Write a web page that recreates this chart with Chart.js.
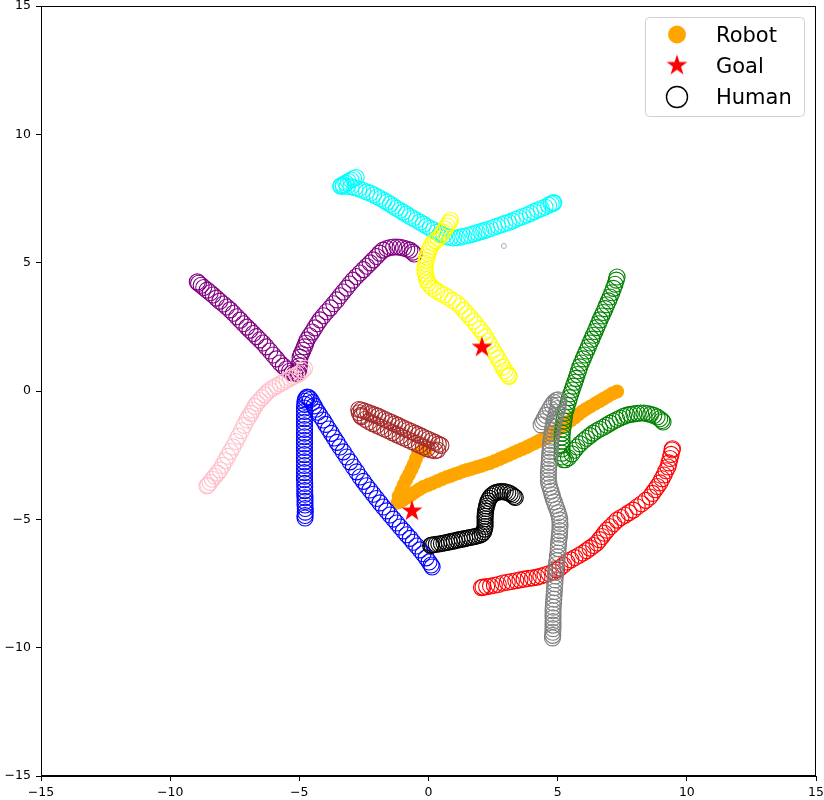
<!DOCTYPE html>
<html><head><meta charset="utf-8">
<style>html,body{margin:0;padding:0;background:#fff;}#wrap{width:824px;height:800px;}</style>
<script src="https://cdn.jsdelivr.net/npm/chart.js@4/dist/chart.umd.min.js"></script>
</head><body><div id="wrap"><canvas id="c" width="824" height="800"></canvas></div>
<script>
// ---- data (x, y) ----
const robot = [[7.30,-0.02],[7.12,-0.10],[6.95,-0.20],[6.78,-0.30],[6.61,-0.40],[6.44,-0.50],[6.27,-0.60],[6.10,-0.70],[5.95,-0.80],[5.80,-0.92],[5.66,-1.03],[5.51,-1.14],[5.36,-1.25],[5.21,-1.36],[5.05,-1.47],[4.90,-1.58],[4.74,-1.68],[4.59,-1.79],[4.43,-1.87],[4.27,-1.95],[4.12,-2.03],[3.96,-2.10],[3.81,-2.18],[3.63,-2.26],[3.45,-2.34],[3.27,-2.42],[3.10,-2.50],[2.92,-2.57],[2.75,-2.65],[2.57,-2.73],[2.38,-2.81],[2.20,-2.86],[2.02,-2.92],[1.85,-2.97],[1.67,-3.03],[1.49,-3.08],[1.33,-3.13],[1.18,-3.19],[1.02,-3.24],[0.87,-3.30],[0.72,-3.35],[0.53,-3.43],[0.35,-3.51],[0.16,-3.59],[-0.02,-3.66],[-0.21,-3.74],[-0.37,-3.84],[-0.52,-3.94],[-0.68,-4.05],[-0.83,-4.15],[-0.99,-4.25],[-1.10,-4.30],[-1.20,-4.35],[-1.15,-4.10],[-1.05,-3.87],[-0.96,-3.66],[-0.86,-3.45],[-0.76,-3.26],[-0.66,-3.06],[-0.57,-2.86],[-0.49,-2.65],[-0.41,-2.45],[-0.28,-2.36],[-0.10,-2.30]];
const goals = [[2.07,1.70],[-0.64,-4.68]];
const probe = [[2.92,5.65]];
const cyan = [[-2.80,8.32],[-2.90,8.28],[-3.00,8.22],[-3.10,8.16],[-3.20,8.10],[-3.30,8.04],[-3.38,8.00],[-3.40,7.98],[-3.30,7.98],[-3.15,7.98],[-3.00,7.96],[-2.85,7.92],[-2.70,7.88],[-2.55,7.82],[-2.40,7.76],[-2.26,7.71],[-2.12,7.64],[-1.98,7.57],[-1.85,7.50],[-1.72,7.42],[-1.61,7.36],[-1.48,7.28],[-1.36,7.20],[-1.24,7.12],[-1.11,7.04],[-0.99,6.97],[-0.86,6.89],[-0.73,6.81],[-0.60,6.73],[-0.47,6.66],[-0.33,6.58],[-0.20,6.50],[-0.07,6.42],[0.07,6.34],[0.20,6.27],[0.33,6.19],[0.46,6.12],[0.59,6.06],[0.72,6.01],[0.85,5.98],[0.98,5.96],[1.11,5.97],[1.24,6.00],[1.37,6.03],[1.50,6.06],[1.63,6.09],[1.76,6.13],[1.89,6.17],[2.02,6.21],[2.14,6.25],[2.26,6.28],[2.40,6.33],[2.54,6.38],[2.68,6.43],[2.82,6.48],[2.96,6.53],[3.10,6.57],[3.24,6.63],[3.38,6.69],[3.52,6.75],[3.66,6.80],[3.81,6.86],[3.95,6.92],[4.09,6.99],[4.23,7.05],[4.37,7.11],[4.51,7.17],[4.65,7.24],[4.75,7.29],[4.82,7.32],[4.85,7.34]];
const yellow = [[0.85,6.65],[0.80,6.55],[0.72,6.43],[0.64,6.31],[0.56,6.19],[0.47,6.06],[0.37,5.94],[0.27,5.85],[0.17,5.77],[0.09,5.63],[0.03,5.50],[-0.02,5.36],[-0.06,5.22],[-0.09,5.10],[-0.11,4.97],[-0.13,4.84],[-0.14,4.71],[-0.12,4.58],[-0.09,4.46],[-0.06,4.33],[-0.02,4.21],[0.07,4.10],[0.18,4.00],[0.32,3.90],[0.45,3.82],[0.60,3.74],[0.77,3.64],[0.94,3.53],[1.10,3.43],[1.24,3.30],[1.37,3.15],[1.49,3.01],[1.61,2.88],[1.74,2.73],[1.86,2.57],[1.99,2.42],[2.11,2.26],[2.21,2.10],[2.31,1.93],[2.40,1.77],[2.50,1.60],[2.60,1.43],[2.69,1.27],[2.79,1.10],[2.88,0.93],[2.96,0.80],[3.04,0.68],[3.10,0.60],[3.12,0.57]];
const purple = [[-8.95,4.25],[-8.90,4.20],[-8.80,4.12],[-8.70,4.03],[-8.57,3.93],[-8.45,3.83],[-8.34,3.74],[-8.21,3.62],[-8.08,3.50],[-7.94,3.39],[-7.81,3.27],[-7.68,3.16],[-7.55,3.03],[-7.42,2.89],[-7.29,2.76],[-7.16,2.62],[-7.03,2.49],[-6.91,2.37],[-6.78,2.24],[-6.66,2.12],[-6.53,1.99],[-6.41,1.87],[-6.28,1.72],[-6.14,1.56],[-6.01,1.40],[-5.88,1.25],[-5.75,1.09],[-5.62,0.97],[-5.50,0.86],[-5.38,0.77],[-5.28,0.70],[-5.18,0.68],[-5.10,0.70],[-5.05,0.74],[-5.02,0.85],[-5.00,0.98],[-4.99,1.12],[-4.97,1.32],[-4.92,1.45],[-4.86,1.59],[-4.80,1.72],[-4.75,1.86],[-4.70,1.99],[-4.60,2.15],[-4.50,2.30],[-4.40,2.46],[-4.30,2.62],[-4.20,2.77],[-4.07,2.93],[-3.94,3.09],[-3.80,3.24],[-3.67,3.40],[-3.54,3.55],[-3.42,3.71],[-3.30,3.86],[-3.17,4.01],[-3.05,4.17],[-2.92,4.32],[-2.79,4.46],[-2.65,4.60],[-2.52,4.73],[-2.39,4.86],[-2.26,4.99],[-2.14,5.11],[-2.01,5.24],[-1.89,5.37],[-1.76,5.49],[-1.62,5.55],[-1.48,5.59],[-1.35,5.61],[-1.22,5.61],[-1.10,5.60],[-0.97,5.57],[-0.84,5.53],[-0.72,5.49],[-0.62,5.41],[-0.55,5.34]];
const pink = [[-8.58,-3.70],[-8.54,-3.66],[-8.46,-3.56],[-8.37,-3.44],[-8.27,-3.32],[-8.17,-3.20],[-8.07,-3.08],[-7.97,-2.90],[-7.87,-2.72],[-7.77,-2.54],[-7.67,-2.36],[-7.57,-2.18],[-7.46,-1.97],[-7.35,-1.76],[-7.24,-1.55],[-7.14,-1.34],[-7.03,-1.13],[-6.95,-1.00],[-6.87,-0.87],[-6.80,-0.74],[-6.72,-0.60],[-6.64,-0.47],[-6.54,-0.37],[-6.44,-0.26],[-6.34,-0.15],[-6.24,-0.05],[-6.14,0.04],[-6.01,0.12],[-5.88,0.20],[-5.74,0.28],[-5.61,0.35],[-5.48,0.43],[-5.35,0.50],[-5.23,0.57],[-5.10,0.63],[-4.97,0.70],[-4.88,0.80],[-4.80,0.88]];
const blue = [[-4.78,-4.95],[-4.78,-4.85],[-4.77,-4.72],[-4.77,-4.58],[-4.78,-4.44],[-4.78,-4.30],[-4.78,-4.16],[-4.79,-4.02],[-4.79,-3.88],[-4.79,-3.74],[-4.79,-3.60],[-4.80,-3.46],[-4.80,-3.32],[-4.80,-3.18],[-4.80,-3.04],[-4.80,-2.90],[-4.80,-2.76],[-4.80,-2.62],[-4.80,-2.48],[-4.80,-2.34],[-4.80,-2.20],[-4.80,-2.06],[-4.80,-1.92],[-4.80,-1.78],[-4.80,-1.64],[-4.80,-1.50],[-4.80,-1.36],[-4.80,-1.22],[-4.80,-1.08],[-4.80,-0.94],[-4.80,-0.80],[-4.80,-0.66],[-4.79,-0.52],[-4.78,-0.40],[-4.75,-0.30],[-4.70,-0.24],[-4.63,-0.26],[-4.57,-0.33],[-4.50,-0.45],[-4.43,-0.58],[-4.36,-0.71],[-4.28,-0.83],[-4.20,-0.96],[-4.08,-1.13],[-3.98,-1.30],[-3.87,-1.48],[-3.76,-1.65],[-3.65,-1.83],[-3.54,-2.00],[-3.43,-2.18],[-3.30,-2.37],[-3.17,-2.57],[-3.04,-2.76],[-2.91,-2.96],[-2.78,-3.15],[-2.65,-3.35],[-2.52,-3.52],[-2.40,-3.69],[-2.27,-3.86],[-2.14,-4.02],[-2.01,-4.19],[-1.88,-4.36],[-1.75,-4.52],[-1.62,-4.67],[-1.49,-4.83],[-1.36,-4.99],[-1.23,-5.14],[-1.10,-5.30],[-0.97,-5.45],[-0.84,-5.60],[-0.71,-5.74],[-0.59,-5.89],[-0.46,-6.04],[-0.33,-6.19],[-0.21,-6.34],[-0.09,-6.50],[0.02,-6.66],[0.10,-6.78],[0.14,-6.86]];
const brown = [[-2.70,-0.72],[-2.60,-0.74],[-2.48,-0.78],[-2.35,-0.83],[-2.22,-0.88],[-2.09,-0.93],[-1.96,-0.98],[-1.83,-1.04],[-1.70,-1.10],[-1.57,-1.16],[-1.44,-1.22],[-1.31,-1.28],[-1.18,-1.34],[-1.05,-1.40],[-0.92,-1.46],[-0.79,-1.52],[-0.66,-1.58],[-0.53,-1.64],[-0.40,-1.70],[-0.27,-1.76],[-0.14,-1.82],[-0.01,-1.88],[0.12,-1.94],[0.25,-2.00],[0.38,-2.07],[0.48,-2.12],[-2.68,-0.85],[-2.62,-0.95],[-2.60,-1.00],[-2.45,-1.10],[-2.30,-1.20],[-2.15,-1.27],[-2.00,-1.34],[-1.85,-1.41],[-1.70,-1.48],[-1.55,-1.55],[-1.40,-1.62],[-1.25,-1.69],[-1.10,-1.76],[-0.95,-1.83],[-0.80,-1.90],[-0.65,-1.97],[-0.50,-2.04],[-0.35,-2.11],[-0.20,-2.18],[-0.05,-2.25],[0.10,-2.30],[0.25,-2.33],[0.35,-2.30]];
const black = [[0.08,-6.02],[0.12,-6.00],[0.20,-5.99],[0.30,-5.97],[0.40,-5.96],[0.50,-5.94],[0.60,-5.92],[0.70,-5.90],[0.80,-5.88],[0.90,-5.86],[1.00,-5.84],[1.10,-5.81],[1.20,-5.79],[1.30,-5.77],[1.40,-5.75],[1.50,-5.73],[1.60,-5.71],[1.70,-5.69],[1.80,-5.67],[1.90,-5.64],[2.00,-5.61],[2.08,-5.56],[2.14,-5.48],[2.17,-5.38],[2.19,-5.28],[2.19,-5.18],[2.19,-5.08],[2.19,-4.98],[2.19,-4.88],[2.20,-4.78],[2.21,-4.68],[2.23,-4.58],[2.25,-4.48],[2.28,-4.38],[2.31,-4.28],[2.36,-4.18],[2.42,-4.09],[2.50,-4.02],[2.58,-3.97],[2.67,-3.94],[2.77,-3.92],[2.87,-3.92],[2.97,-3.93],[3.07,-3.96],[3.16,-4.00],[3.24,-4.05],[3.31,-4.11],[3.36,-4.15]];
const gray = [[4.36,-1.32],[4.42,-1.20],[4.48,-1.08],[4.55,-0.95],[4.62,-0.82],[4.70,-0.68],[4.78,-0.55],[4.86,-0.44],[4.95,-0.36],[5.02,-0.34],[5.05,-0.42],[5.03,-0.55],[5.00,-0.68],[4.96,-0.82],[4.92,-0.96],[4.88,-1.10],[4.85,-1.24],[4.82,-1.38],[4.80,-1.52],[4.78,-1.66],[4.76,-1.80],[4.74,-1.94],[4.72,-2.08],[4.71,-2.22],[4.70,-2.36],[4.69,-2.50],[4.68,-2.64],[4.67,-2.78],[4.66,-2.92],[4.65,-3.06],[4.64,-3.20],[4.64,-3.34],[4.64,-3.48],[4.66,-3.62],[4.70,-3.76],[4.74,-3.90],[4.78,-4.04],[4.82,-4.18],[4.87,-4.32],[4.92,-4.46],[4.97,-4.60],[5.02,-4.74],[5.06,-4.88],[5.08,-5.02],[5.09,-5.16],[5.09,-5.30],[5.08,-5.44],[5.07,-5.58],[5.06,-5.72],[5.04,-5.86],[5.03,-6.00],[5.02,-6.14],[5.01,-6.31],[4.99,-6.46],[4.97,-6.61],[4.95,-6.76],[4.93,-6.91],[4.92,-7.06],[4.91,-7.21],[4.90,-7.36],[4.89,-7.51],[4.88,-7.66],[4.87,-7.81],[4.86,-7.96],[4.85,-8.11],[4.84,-8.26],[4.83,-8.42],[4.82,-8.56],[4.82,-8.70],[4.82,-8.84],[4.82,-8.98],[4.82,-9.12],[4.82,-9.26],[4.81,-9.40],[4.81,-9.52],[4.80,-9.62]];
const green = [[7.30,4.44],[7.27,4.32],[7.22,4.16],[7.16,4.00],[7.10,3.83],[7.03,3.66],[6.97,3.51],[6.90,3.36],[6.84,3.21],[6.77,3.06],[6.71,2.92],[6.64,2.77],[6.58,2.62],[6.51,2.47],[6.45,2.32],[6.38,2.17],[6.32,2.02],[6.25,1.87],[6.19,1.71],[6.12,1.56],[6.05,1.40],[5.99,1.25],[5.92,1.09],[5.86,0.94],[5.81,0.79],[5.76,0.64],[5.71,0.49],[5.66,0.34],[5.61,0.19],[5.56,0.04],[5.51,-0.11],[5.46,-0.26],[5.42,-0.41],[5.37,-0.56],[5.33,-0.71],[5.28,-0.86],[5.26,-1.02],[5.24,-1.17],[5.22,-1.33],[5.20,-1.48],[5.18,-1.64],[5.17,-1.79],[5.17,-1.95],[5.17,-2.11],[5.17,-2.26],[5.17,-2.42],[5.17,-2.57],[5.22,-2.68],[5.30,-2.68],[5.42,-2.60],[5.55,-2.45],[5.65,-2.31],[5.75,-2.18],[5.87,-2.06],[6.00,-1.94],[6.12,-1.84],[6.25,-1.74],[6.37,-1.64],[6.50,-1.56],[6.63,-1.48],[6.77,-1.41],[6.90,-1.33],[7.03,-1.25],[7.16,-1.18],[7.29,-1.11],[7.42,-1.05],[7.55,-0.99],[7.68,-0.94],[7.81,-0.91],[7.95,-0.89],[8.08,-0.87],[8.21,-0.86],[8.34,-0.86],[8.47,-0.88],[8.60,-0.91],[8.72,-0.95],[8.85,-1.01],[8.95,-1.08],[9.03,-1.15],[9.08,-1.21]];
const red = [[2.05,-7.66],[2.11,-7.64],[2.25,-7.62],[2.40,-7.60],[2.55,-7.57],[2.70,-7.54],[2.88,-7.48],[3.05,-7.45],[3.21,-7.42],[3.38,-7.39],[3.54,-7.36],[3.70,-7.33],[3.86,-7.30],[4.03,-7.28],[4.20,-7.25],[4.35,-7.21],[4.51,-7.16],[4.66,-7.11],[4.82,-7.05],[4.96,-6.97],[5.09,-6.89],[5.23,-6.78],[5.36,-6.66],[5.51,-6.58],[5.67,-6.49],[5.83,-6.40],[5.98,-6.31],[6.12,-6.22],[6.25,-6.12],[6.39,-6.02],[6.52,-5.92],[6.62,-5.79],[6.72,-5.67],[6.81,-5.54],[6.91,-5.42],[7.04,-5.29],[7.17,-5.16],[7.30,-5.03],[7.45,-4.93],[7.61,-4.84],[7.76,-4.74],[7.92,-4.64],[8.08,-4.51],[8.25,-4.39],[8.41,-4.26],[8.57,-4.13],[8.67,-3.99],[8.77,-3.85],[8.86,-3.72],[8.96,-3.58],[9.04,-3.42],[9.12,-3.27],[9.19,-3.11],[9.27,-2.96],[9.31,-2.80],[9.35,-2.63],[9.39,-2.47],[9.43,-2.30],[9.44,-2.25]];
const axisTicks = [-15,-10,-5,0,5,10,15];
const legendLabels = ['Robot','Goal','Human'];

// ---- helpers ----
const pts = a => a.map(p => ({x:p[0], y:p[1]}));
function makeStar(R, color){
  const s = Math.ceil(R*2+2), c = document.createElement('canvas');
  c.width = s; c.height = s;
  const g = c.getContext('2d'); g.fillStyle = color; g.beginPath();
  for (let i=0;i<10;i++){ const a=-Math.PI/2+i*Math.PI/5, r=i%2?R*0.382:R; g.lineTo(s/2+r*Math.cos(a), s/2+r*Math.sin(a)); }
  g.closePath(); g.fill(); return c;
}
const starImg = makeStar(11, '#ff0000');
function human(data, color, order){
  return {data:pts(data), pointStyle:'circle', pointRadius:8, borderWidth:1.1, borderColor:color, backgroundColor:'rgba(0,0,0,0)', order:order};
}
const FONT = 'DejaVu Sans';
const minus = v => String(v).replace('-', '\u2212');

const frameAndLegend = {
  id:'frameAndLegend',
  afterDraw(chart){
    const ctx = chart.ctx, a = chart.chartArea;
    ctx.save();
    ctx.strokeStyle = '#000'; ctx.lineWidth = 1;
    ctx.strokeRect(Math.round(a.left)+0.5, Math.round(a.top)+0.5, Math.round(a.right-a.left)-1, Math.round(a.bottom-a.top)-1);
    const bx=645.5, by=17.5, bw=159, bh=99, rr=4;
    ctx.beginPath();
    ctx.moveTo(bx+rr,by); ctx.lineTo(bx+bw-rr,by); ctx.arcTo(bx+bw,by,bx+bw,by+rr,rr);
    ctx.lineTo(bx+bw,by+bh-rr); ctx.arcTo(bx+bw,by+bh,bx+bw-rr,by+bh,rr);
    ctx.lineTo(bx+rr,by+bh); ctx.arcTo(bx,by+bh,bx,by+bh-rr,rr);
    ctx.lineTo(bx,by+rr); ctx.arcTo(bx,by,bx+rr,by,rr); ctx.closePath();
    ctx.fillStyle='rgba(255,255,255,0.8)'; ctx.fill();
    ctx.strokeStyle='#d0d0d0'; ctx.stroke();
    const mx = 677, ys = [34.5, 65.5, 97];
    ctx.fillStyle='#ffa500'; ctx.beginPath(); ctx.arc(mx, ys[0], 9, 0, Math.PI*2); ctx.fill();
    ctx.drawImage(starImg, mx-starImg.width/2, ys[1]-starImg.height/2);
    ctx.strokeStyle='#000'; ctx.lineWidth=1.4; ctx.beginPath(); ctx.arc(mx, ys[2], 10.5, 0, Math.PI*2); ctx.stroke();
    ctx.fillStyle='#000'; ctx.font = '21px "' + FONT + '"'; ctx.textAlign='left'; ctx.textBaseline='alphabetic';
    const bases = [41.7, 72.7, 104];
    legendLabels.forEach((t,i)=>ctx.fillText(t, 716, bases[i]));
    ctx.restore();
  }
};

const axisCommon = {
  type:'linear', min:-15, max:15,
  ticks:{ stepSize:5, color:'#000', font:{family:FONT, size:12.5}, padding:4, autoSkip:false, maxRotation:0, callback: v => minus(v) },
  grid:{ display:true, drawOnChartArea:false, drawTicks:true, tickLength:5, color:'#000' },
  border:{ display:true, color:'#000', width:1 }
};

new Chart(document.getElementById('c'), {
  type:'scatter',
  data:{ datasets:[
    {data:pts(goals), pointStyle:starImg, pointRadius:11, order:0},
    {data:pts(probe), pointStyle:'circle', pointRadius:2.5, borderWidth:1, borderColor:'#a9a9c8', backgroundColor:'rgba(0,0,0,0)', order:1},
    human(yellow, '#ffff00', 2),
    human(pink, '#ffc0cb', 3),
    human(gray, '#808080', 4),
    human(black, '#000000', 5),
    human(brown, '#a52a2a', 6),
    human(blue, '#0000ff', 7),
    human(green, '#008000', 8),
    human(red, '#ff0000', 9),
    human(purple, '#800080', 10),
    human(cyan, '#00ffff', 11),
    {data:pts(robot), pointStyle:'circle', pointRadius:7, borderWidth:0, borderColor:'#ffa500', backgroundColor:'#ffa500', order:20}
  ]},
  options:{
    responsive:false, animation:false, devicePixelRatio:1, events:[],
    layout:{ autoPadding:false, padding:{ top:6, right:8, left:0, bottom:0 } },
    plugins:{ legend:{display:false}, tooltip:{enabled:false} },
    scales:{
      x: Object.assign({}, axisCommon, { position:'bottom', afterFit(s){ s.height = 24; s.paddingLeft = 0; s.paddingRight = 0; } }),
      y: Object.assign({}, axisCommon, { position:'left', ticks:Object.assign({}, axisCommon.ticks, {padding:5}), afterFit(s){ s.width = 41; s.paddingTop = 0; s.paddingBottom = 0; } })
    }
  },
  plugins:[frameAndLegend]
});
</script>
</body></html>
